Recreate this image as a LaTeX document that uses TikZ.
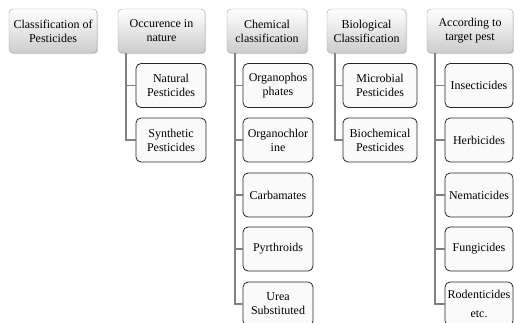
\documentclass[tikz,border=0pt]{standalone}
\usepackage{fontspec}
\setmainfont{Liberation Serif}
\usetikzlibrary{shadows}
\definecolor{linkgray}{HTML}{808080}

\begin{document}
\begin{tikzpicture}[x=1pt, y=-1pt,
  font=\fontsize{12}{14}\selectfont,
  hdr/.style={draw=gray!75, rounded corners=4pt, top color=white, bottom color=gray!40,
    minimum height=44pt, align=center, inner sep=1pt,
    drop shadow={opacity=0.3, shadow xshift=1.2pt, shadow yshift=-1.2pt}},
  leaf/.style={draw=black!85, fill=gray!4, rounded corners=5pt, line width=0.8pt,
    minimum height=44pt, align=center, inner sep=0.5pt},
  link/.style={linkgray, line width=1.8pt}]
\useasboundingbox (0,0) rectangle (514,322);
\clip (0,0) rectangle (514,322);

% column headers
\foreach \nm/\cx/\bw/\lbl in {class/53/88/{Classification of\\Pesticides},
    occ/161.5/87/{Occurence in\\nature},
    chem/267/80/{Chemical\\classification},
    bio/366.5/79/{Biological\\Classification},
    pest/470/86/{According to\\target pest}}
  \node[hdr, minimum width=\bw pt] (\nm) at (\cx,31) {\lbl};

% members of each class
\foreach \up/\nm/\cx/\bw/\cy/\lbl in {occ/nat/171/70/85.5/{Natural\\Pesticides},
    occ/syn/171/70/140/{Synthetic\\Pesticides},
    chem/ophos/278/70/85.5/{Organophos\\phates},
    chem/ochlor/278/70/140/{Organochlor\\ine},
    chem/carb/278/70/195/{Carbamates},
    chem/pyr/278/70/249/{Pyrthroids},
    chem/urea/278/70/304/{Urea\\Substituted},
    bio/micro/380/74/85.5/{Microbial\\Pesticides},
    bio/biochem/380/74/140/{Biochemical\\Pesticides},
    pest/insect/479/68/85.5/{Insecticides},
    pest/herb/479/68/140/{Herbicides},
    pest/nema/479/68/195/{Nematicides},
    pest/fung/479/68/249/{Fungicides},
    pest/rod/479/68/304/{Rodenticides\\[5pt]etc.}}
 {
  \node[leaf, minimum width=\bw pt] (\nm) at (\cx,\cy) {\lbl};
  \draw[link] ([xshift=8.5pt]\up.south west) |- (\nm.west);
 }
\end{tikzpicture}
\end{document}
